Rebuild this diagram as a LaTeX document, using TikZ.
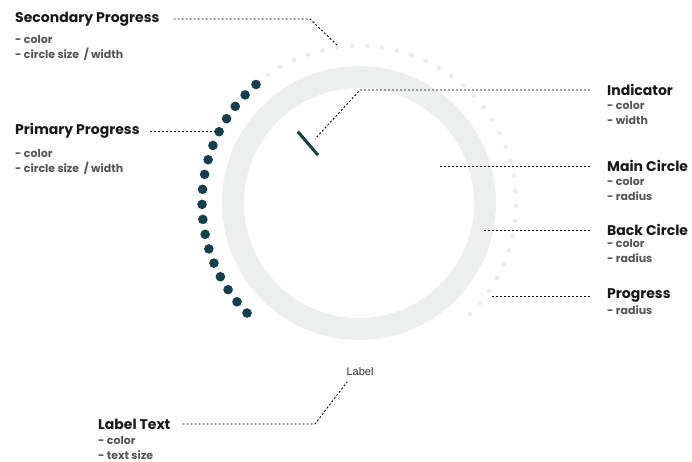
\documentclass[tikz,border=0pt]{standalone}
\usepackage{fontspec}
\setmainfont{Poppins}
\newfontfamily\labfont{Liberation Sans}
\definecolor{knobteal}{HTML}{143F4C}
\definecolor{ringgray}{HTML}{EDEFEE}
\definecolor{dotgray}{HTML}{EBEBEB}
\definecolor{itemgray}{HTML}{555555}
\tikzset{
	head/.style={anchor=west, inner sep=0pt, text=black!90,
		font=\fontsize{14}{16}\selectfont\bfseries},
	item/.style={anchor=north west, inner sep=0pt, align=left, text=itemgray,
		font=\fontsize{11}{15}\selectfont\bfseries},
	leader/.style={draw=black, line width=0.9pt, dash pattern=on 2pt off 2pt},
}
\begin{document}
\begin{tikzpicture}[x=1pt, y=-1pt]
	\useasboundingbox (0,0) rectangle (692,462);
	% knob
	\coordinate (C) at (359,203);
	\draw[ringgray, line width=22pt] (C) circle (126pt);
	\begin{scope}[shift={(C)}]
		\foreach \i in {0,...,49}{
			\pgfmathsetmacro\ang{5.5*\i-224.5}
			\ifnum\i<18
				\fill[knobteal] (\ang:157) circle (4.8pt);
			\else
				\fill[dotgray] (\ang:157) circle (2.3pt);
			\fi
		}
		\draw[knobteal, line width=3pt] (-130.6:63) -- (-130.6:94);
	\end{scope}
	\node[inner sep=0pt, text=black!80, font=\labfont\fontsize{11}{12}\selectfont] (lbl) at (360,372) {Label};
	% left texts
	\node[head] (sec) at (15,19) {Secondary Progress};
	\node[item] (secitems) at (15,35) {- color\\- circle size~ / width};
	\node[head] (prim) at (15,131) {Primary Progress};
	\node[item] (primitems) at (15,149) {- color\\- circle size~ / width};
	\node[head] (labtext) at (98,424) {Label Text};
	\node[item] (labitems) at (98,436) {- color\\- text size};
	% right texts
	\node[head] (ind) at (607,90) {Indicator};
	\node[item] (inditems) at (607,101) {- color\\- width};
	\node[head] (main) at (607,166) {Main Circle};
	\node[item] (mainitems) at (607,177) {- color\\- radius};
	\node[head] (back) at (607,230) {Back Circle};
	\node[item] (backitems) at (607,239) {- color\\- radius};
	\node[head] (prog) at (607,296) {Progress};
	\node[item] (progitems) at (607,305) {- radius};
	% leader ends
	\coordinate (secbend) at (310,19);
	\coordinate (secend) at (337,45);
	\coordinate (primend) at (218,131);
	\coordinate (indbend) at (360,90);
	\coordinate (indend) at (315,139);
	\coordinate (mainend) at (440,166);
	\coordinate (backend) at (482,230);
	\coordinate (progend) at (492,296);
	\coordinate (labbend) at (315,424);
	\coordinate (labend) at (347,382);
	\draw[leader] ([xshift=14pt]sec.east) -- (secbend) -- (secend);
	\draw[leader] ([xshift=10pt]prim.east) -- (primend);
	\draw[leader] ([xshift=12pt]labtext.east) -- (labbend) -- (labend);
	\draw[leader] ([xshift=-17pt]ind.west) -- (indbend) -- (indend);
	\draw[leader] ([xshift=-17pt]main.west) -- (mainend);
	\draw[leader] ([xshift=-17pt]back.west) -- (backend);
	\draw[leader] ([xshift=-17pt]prog.west) -- (progend);
\end{tikzpicture}
\end{document}
